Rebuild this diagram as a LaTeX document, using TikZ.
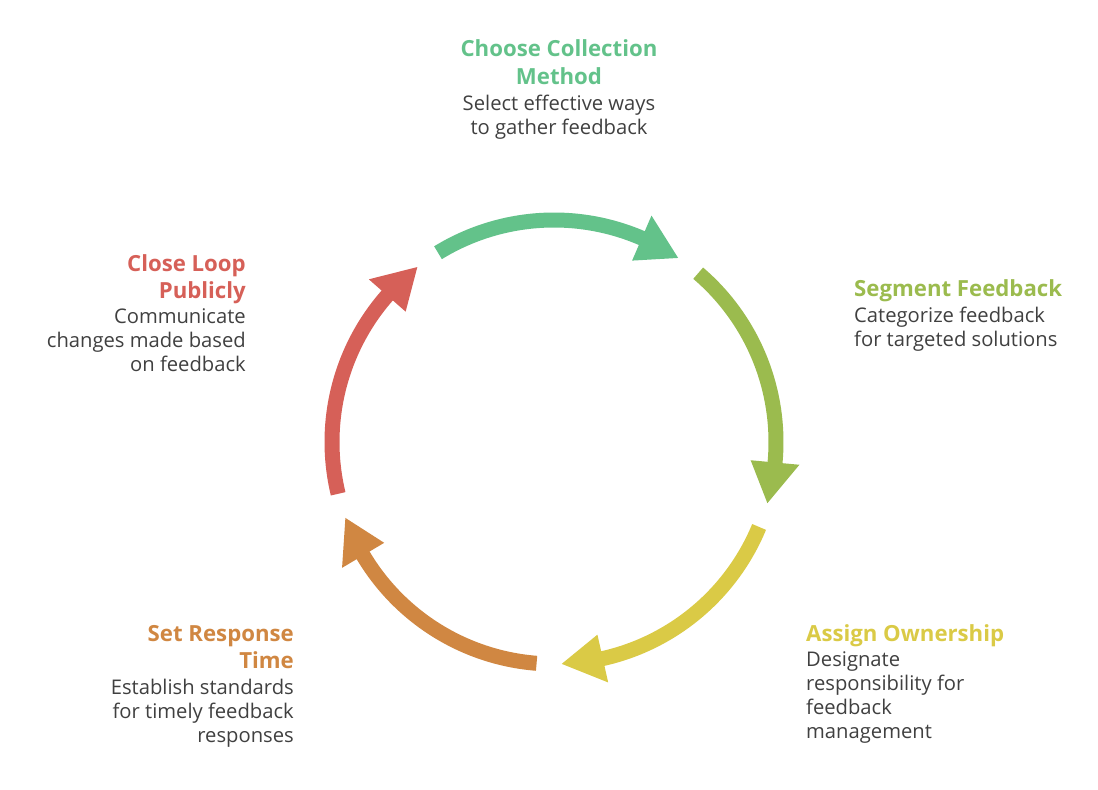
\documentclass[tikz,border=0pt]{standalone}
\usepackage{fontspec}
\setmainfont{Open Sans}
\definecolor{cgreen}{HTML}{63C28A}
\definecolor{colive}{HTML}{9BBB4E}
\definecolor{cyellow}{HTML}{DACA46}
\definecolor{corange}{HTML}{D08742}
\definecolor{cred}{HTML}{D66058}
\definecolor{ctext}{HTML}{404040}
\newcommand{\cyclarrow}[4]{%
  % #1 colour, #2 tail angle, #3 tip angle, #4 name
  \pgfmathsetmacro{\backang}{#3+10.7}%
  \pgfmathsetmacro{\bodyend}{#3+9.7}%
  \coordinate (#4-tail) at (#2:222);
  \coordinate (#4-tip) at (#3:222);
  \draw[line width=15pt, draw=#1, line cap=butt] (#4-tail) arc[start angle=#2, end angle=\bodyend, radius=222];
  \fill[#1] (\backang:246.5) -- (#4-tip) -- (\backang:197.5) -- cycle;
}
\tikzset{
  title/.style={font=\bfseries\fontsize{22.2}{26}\selectfont, inner sep=0pt},
  body/.style={font=\fontsize{20.2}{24}\selectfont, text=ctext, inner sep=0pt},
}
\begin{document}
\begin{tikzpicture}[x=1pt,y=1pt]
\useasboundingbox (0,0) rectangle (1098,790);
\begin{scope}[shift={(554,348)}]
  \cyclarrow{cgreen}{121.5}{56}{a1}
  \cyclarrow{colive}{49.5}{-16}{a2}
  \cyclarrow{cyellow}{-22.5}{-88}{a3}
  \cyclarrow{corange}{-94.5}{-160}{a4}
  \cyclarrow{cred}{-166.5}{-232}{a5}
\end{scope}
% top block
\node[title, text=cgreen, anchor=base] (t1a) at (559,{790-57}) {Choose Collection};
\node[title, text=cgreen, anchor=base] (t1b) at (559,{790-85}) {Method};
\node[body, anchor=base] (b1a) at (559,{790-111}) {Select effective ways};
\node[body, anchor=base] (b1b) at (559,{790-135}) {to gather feedback};
% right block
\node[title, text=colive, anchor=base west] (t2a) at (854,{790-297}) {Segment Feedback};
\node[body, anchor=base west] (b2a) at (854,{790-323}) {Categorize feedback};
\node[body, anchor=base west] (b2b) at (854,{790-347}) {for targeted solutions};
% bottom right block
\node[title, text=cyellow, anchor=base west] (t3a) at (806,{790-641.5}) {Assign Ownership};
\node[body, anchor=base west] (b3a) at (806,{790-666.5}) {Designate};
\node[body, anchor=base west] (b3b) at (806,{790-690.5}) {responsibility for};
\node[body, anchor=base west] (b3c) at (806,{790-714.5}) {feedback};
\node[body, anchor=base west] (b3d) at (806,{790-738.5}) {management};
% bottom left block
\node[title, text=corange, anchor=base east] (t4a) at (294,{790-641.5}) {Set Response};
\node[title, text=corange, anchor=base east] (t4b) at (294,{790-669}) {Time};
\node[body, anchor=base east] (b4a) at (294,{790-695}) {Establish standards};
\node[body, anchor=base east] (b4b) at (294,{790-719}) {for timely feedback};
\node[body, anchor=base east] (b4c) at (294,{790-743}) {responses};
% left block
\node[title, text=cred, anchor=base east] (t5a) at (246,{790-271.5}) {Close Loop};
\node[title, text=cred, anchor=base east] (t5b) at (246,{790-298.5}) {Publicly};
\node[body, anchor=base east] (b5a) at (246,{790-324}) {Communicate};
\node[body, anchor=base east] (b5b) at (246,{790-348}) {changes made based};
\node[body, anchor=base east] (b5c) at (246,{790-372}) {on feedback};
\end{tikzpicture}
\end{document}
